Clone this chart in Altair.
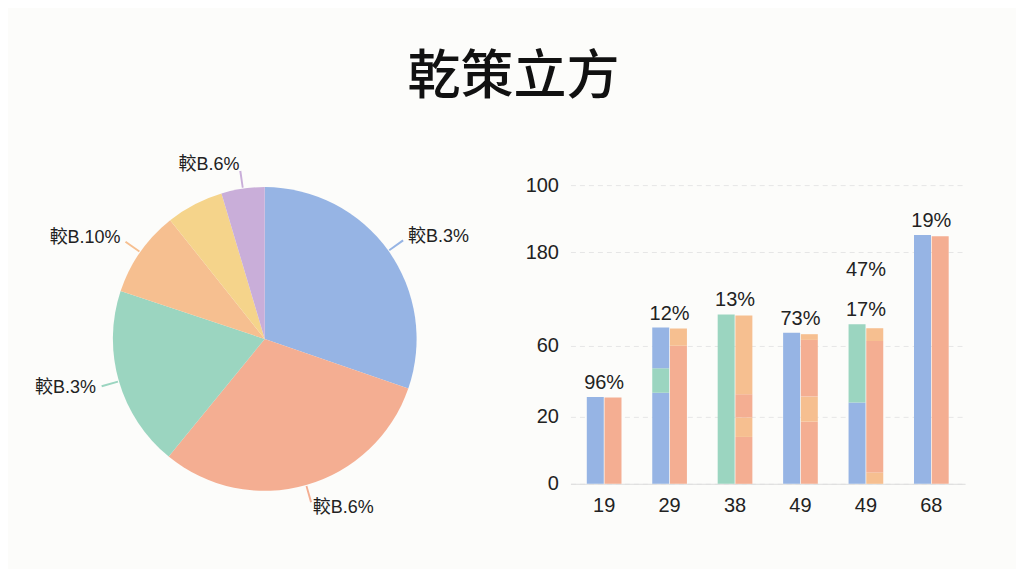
import altair as alt
import pandas as pd

title_text = "乾策立方"
FONT = "Liberation Sans, Noto Sans CJK SC, sans-serif"

# ---- pie data ----
pie_names = ["A", "B", "C", "D", "E", "F"]
pie_values = [30.3, 30.6, 19.2, 9.2, 6.1, 4.6]
pie_labels = ["較B.3%", "較B.6%", "較B.3%", "較B.10%", "", "較B.6%"]
pie_colors = ["#96b4e4", "#f4ae92", "#9bd5c0", "#f6bf90", "#f5d48b", "#c9aed9"]

# ---- bar data ----
groups = ["g1", "g2", "g3", "g4", "g5", "g6"]
group_labels = ["19", "29", "38", "49", "49", "68"]
left_colors = [["blue"], ["blue", "green", "blue"], ["green"], ["blue"], ["blue", "green"], ["blue"]]
left_tops = [[29.1], [30.5, 38.7, 52.3], [56.7], [50.6], [27.2, 53.4], [83.3]]
right_colors = [["salmon"], ["salmon", "yellow"], ["salmon", "yellow", "salmon", "yellow"],
                ["salmon", "yellow", "salmon", "yellow"], ["yellow", "salmon", "yellow"], ["salmon"]]
right_tops = [[28.9], [46.2, 52.0], [15.7, 22.2, 30.0, 56.4], [20.8, 29.2, 48.2, 50.1], [3.8, 47.8, 52.1], [82.9]]
bar_labels = ["96%", "12%", "13%", "73%", "17%", "19%"]
extra_label_groups = ["g5"]
extra_labels = ["47%"]
seg_names = ["blue", "salmon", "green", "yellow"]
seg_colors = ["#93b3e3", "#f3ab8e", "#96d3bb", "#f5cf8a"]
y_tick_values = [0, 22.4, 46.2, 77.6, 100]
y_tick_labels = ["0", "20", "60", "180", "100"]

# ---- pie chart ----
pie_df = pd.DataFrame({"name": pie_names, "value": pie_values, "label": pie_labels,
                       "order": list(range(len(pie_names)))})
base = (alt.Chart(pie_df)
        .transform_joinaggregate(total="sum(value)")
        .transform_window(cum="sum(value)", sort=[alt.SortField("order")], frame=[None, 0])
        .transform_calculate(start="(datum.cum - datum.value)/datum.total*2*PI",
                             end="datum.cum/datum.total*2*PI",
                             mid="(datum.cum - datum.value/2)/datum.total*2*PI")
        .transform_calculate(l0="datum.mid - 0.006", l1="datum.mid + 0.006"))
pcolor = alt.Color("name:N", scale=alt.Scale(domain=pie_names, range=pie_colors), legend=None)

arcs = base.mark_arc(outerRadius=152).encode(
    theta=alt.Theta("start:Q", scale=None), theta2=alt.Theta2("end:Q"), color=pcolor)
leaders = base.transform_filter("datum.label != ''").mark_arc(radius=170, radius2=153).encode(
    theta=alt.Theta("l0:Q", scale=None), theta2=alt.Theta2("l1:Q"), color=pcolor)
txt_r = base.transform_filter("datum.label != '' && datum.mid < PI").mark_text(
    radius=176, align="left", baseline="middle", font=FONT, fontSize=18, color="#222").encode(
    theta=alt.Theta("mid:Q", scale=None), text="label:N")
txt_l = base.transform_filter("datum.label != '' && datum.mid >= PI").mark_text(
    radius=176, align="right", baseline="middle", font=FONT, fontSize=18, color="#222").encode(
    theta=alt.Theta("mid:Q", scale=None), text="label:N")
pie = alt.layer(arcs, leaders, txt_r, txt_l).properties(width=470, height=376)

# ---- bar chart ----
rows = []
for side, cols, tops in (("L", left_colors, left_tops), ("R", right_colors, right_tops)):
    for g, cs, ts in zip(groups, cols, tops):
        prev = 0
        for c, t in zip(cs, ts):
            rows.append({"group": g, "bar": side, "seg": c, "y0": prev, "y1": t})
            prev = t
bar_df = pd.DataFrame(rows)

x_expr = " : ".join(f"datum.value == '{g}' ? '{l}'" for g, l in zip(groups, group_labels)) + " : ''"
y_expr = " : ".join(f"abs(datum.value - {v}) < 0.01 ? '{l}'" for v, l in zip(y_tick_values, y_tick_labels)) + " : ''"

xenc = alt.X("group:N", scale=alt.Scale(domain=groups, paddingInner=0.47, paddingOuter=0.25),
             axis=alt.Axis(title=None, labelExpr=x_expr, labelAngle=0, ticks=False, domain=True,
                           domainColor="#dddddd", labelFontSize=20, labelFont=FONT,
                           labelColor="#222", labelPadding=12))
yscale = alt.Scale(domain=[0, 111.4], nice=False, zero=True)

bars = alt.Chart(bar_df).mark_bar().encode(
    x=xenc,
    xOffset=alt.XOffset("bar:N", scale=alt.Scale(domain=["L", "R"], paddingInner=0.04)),
    y=alt.Y("y0:Q", scale=yscale,
            axis=alt.Axis(title=None, values=y_tick_values, labelExpr=y_expr, ticks=False,
                          domain=False, grid=True, gridDash=[5, 4], gridColor="#e6e6e6",
                          labelFontSize=20, labelFont=FONT, labelColor="#222", labelPadding=12)),
    y2="y1:Q",
    color=alt.Color("seg:N", scale=alt.Scale(domain=seg_names, range=seg_colors), legend=None))

label_df = pd.DataFrame({"group": groups, "label": bar_labels,
                         "top": [max(max(a), max(b)) for a, b in zip(left_tops, right_tops)]})
lbl = alt.Chart(label_df).mark_text(dy=-14, baseline="middle", font=FONT, fontSize=20,
                                    color="#222").encode(
    x=alt.X("group:N"), y=alt.Y("top:Q"), text="label:N")
extra_df = pd.DataFrame({"group": extra_label_groups, "label": extra_labels,
                         "top": [max(max(left_tops[groups.index(g)]), max(right_tops[groups.index(g)]))
                                 for g in extra_label_groups]})
lbl2 = alt.Chart(extra_df).mark_text(dy=-54, baseline="middle", font=FONT, fontSize=20,
                                     color="#222").encode(
    x=alt.X("group:N"), y=alt.Y("top:Q"), text="label:N")

barchart = alt.layer(bars, lbl, lbl2).properties(width=395, height=333)

chart = alt.hconcat(pie, barchart, spacing=25).properties(
    title=alt.Title(title_text, fontSize=53, font="Noto Sans CJK SC", fontWeight=500,
                    color="#111", anchor="middle", offset=46, dx=16),
    padding={"left": 22, "top": 44, "right": 51, "bottom": 42},
    background="#fcfcfa",
).configure_view(stroke=None)

chart.save("out.html", embed_options={"renderer": "svg", "actions": False})
